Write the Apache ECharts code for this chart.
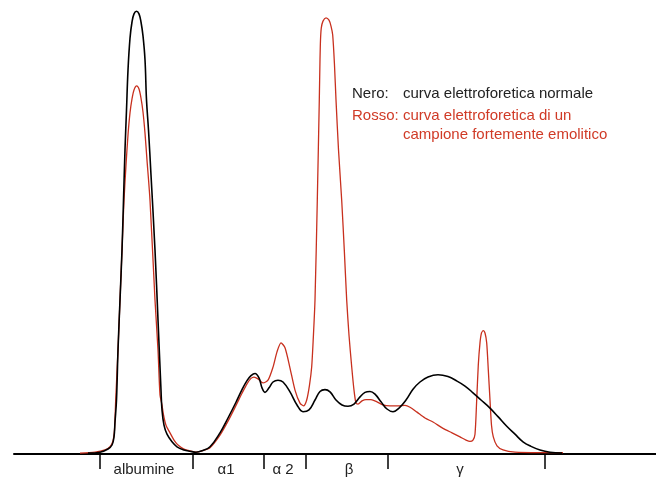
<!DOCTYPE html>
<html>
<head>
<meta charset="utf-8">
<script src="https://cdn.jsdelivr.net/npm/echarts@6/dist/echarts.min.js"></script>
<style>html,body{margin:0;padding:0;background:#fff}#c{width:656px;height:479px}</style>
</head>
<body>
<div id="c"></div>
<script>
// Migration position (arbitrary units) and intensity (% of scale)
var blackX = [74,86,94,98,100,101,102.5,104,106,108,109.5,111,112.5,114,116,118,120,122.5,125,127,129,131,132.5,134.5,137,141,144,147,148,150,153,158,163,170,176,182,188,196,206,214,222,228,233,237,241,245,248,251,255,259,264,269,276,283,289,295,301,306,311,316,322,328,334,340,346,351,356,361,367,373,379,385,392,399,406,414,424,434,443,451,459,467,476,484,493,501,509,517,526,536,548];
var blackY = [0.2,0.4,1.1,2.0,3.8,7.1,12.0,23.1,34.2,45.3,56.4,67.6,76.4,85.3,92.4,96.0,97.8,98.4,97.8,96.0,92.9,87.6,78.7,72.0,62.0,45.3,29.8,14.2,9.8,6.4,4.4,2.7,1.6,0.9,0.6,0.4,0.7,1.6,4.7,8.0,11.5,14.3,16.3,17.4,17.9,16.9,14.7,13.7,14.7,16.0,16.4,16.0,13.8,10.9,9.4,9.8,12.0,13.9,14.3,13.8,12.0,10.9,10.6,11.1,12.7,13.7,13.9,13.3,11.6,10.0,9.4,10.2,12.0,14.4,16.0,17.1,17.6,17.2,16.2,15.1,13.6,12.0,10.2,8.3,6.1,4.4,2.7,1.7,0.9,0.4,0.2];
var redX = [66,81,91,96,99,100.5,101.7,104,106,108,110,112,114,116,118,120,122.7,125,127,129,131,133,136,141,144,146,148,149.5,152,156,160,164,170,176,182,188,196,206,214,222,228,233,237,240,244,249,254,259,263,267,271,276,281,286,289.5,292.7,295.5,297.7,299.3,301,303.3,305.3,306,306.5,307.3,309,312,315,317,318.7,320.5,322,324.5,327.7,330.3,332.7,335,337.7,340,342,344,348,352,357,363,369,376,384,391,396,403,411,419,429,438,446,452,456,459,461,462.7,464.3,466,467.5,469.3,471,472.7,474.3,476,477.5,479.3,483,489,501,526,549];
var redY = [0.2,0.4,0.9,1.6,2.9,5.3,12.0,23.1,34.2,45.3,56.4,64.2,70.9,75.8,78.9,80.9,81.8,81.1,79.1,76.0,71.3,65.3,56.4,34.2,23.1,13.1,10.9,8.7,6.4,4.7,3.1,2.0,1.1,0.7,0.4,0.7,1.4,4.2,7.3,10.8,13.5,15.6,16.8,17.1,16.7,15.8,16.4,19.3,22.7,24.7,23.6,19.1,14.2,11.3,10.7,12.0,15.3,19.4,25.8,34.2,56.4,78.7,87.6,92.0,94.7,96.2,96.9,96.4,95.1,93.1,86.4,78.7,67.6,56.4,45.3,34.2,26.4,19.4,14.2,11.3,11.1,11.8,12.1,12.1,11.6,10.9,10.7,10.7,10.8,10.4,9.3,8.0,7.1,5.7,4.7,3.8,3.1,2.8,3.1,4.4,12.0,19.8,24.7,26.9,27.4,26.9,24.7,18.7,12.0,6.4,3.8,1.8,0.9,0.4,0.3,0.3];
var fractionBounds = [86,179,250,292,374,531];
var fractionCenters = [130,212,269,335,446];
var fractionNames = ["albumine","α1","α 2","β","γ"];

function pairs(xs, ys){ return xs.map(function(x,i){ return [x, ys[i]]; }); }

var FONT = "'Liberation Sans', Arial, Helvetica, sans-serif";
var chart = echarts.init(document.getElementById('c'), null, {renderer:'canvas'});
chart.setOption({
  animation:false,
  grid:{left:14,right:0,top:4,bottom:25},
  xAxis:{
    type:'value', min:0, max:642,
    splitLine:{show:false},
    axisLine:{show:true, lineStyle:{color:'#000', width:2}},
    axisTick:{show:true, inside:false, length:15, customValues:fractionBounds, lineStyle:{color:'#000', width:1.5}},
    axisLabel:{show:true, customValues:fractionCenters, margin:8, color:'#222', fontSize:15, fontFamily:FONT,
      formatter:function(v){ var i = fractionCenters.indexOf(v); return i>=0 ? fractionNames[i] : ''; }}
  },
  yAxis:{type:'value', min:0, max:100, show:false, splitLine:{show:false}},
  graphic:[
    {type:'text', left:352, top:86, style:{text:'Nero:', fill:'#222', font:'15px '+FONT}},
    {type:'text', left:403, top:86, style:{text:'curva elettroforetica normale', fill:'#222', font:'15px '+FONT}},
    {type:'text', left:352, top:108, style:{text:'Rosso:', fill:'#d03a26', font:'15px '+FONT}},
    {type:'text', left:403, top:108, style:{text:'curva elettroforetica di un', fill:'#d03a26', font:'15px '+FONT}},
    {type:'text', left:403, top:127, style:{text:'campione fortemente emolitico', fill:'#d03a26', font:'15px '+FONT}}
  ],
  series:[
    {type:'line', data:pairs(redX, redY), smooth:0.25, showSymbol:false, lineStyle:{color:'#c8301e', width:1.3}, z:2},
    {type:'line', data:pairs(blackX, blackY), smooth:0.4, showSymbol:false, lineStyle:{color:'#000', width:1.6}, z:3}
  ]
});
</script>
</body>
</html>
